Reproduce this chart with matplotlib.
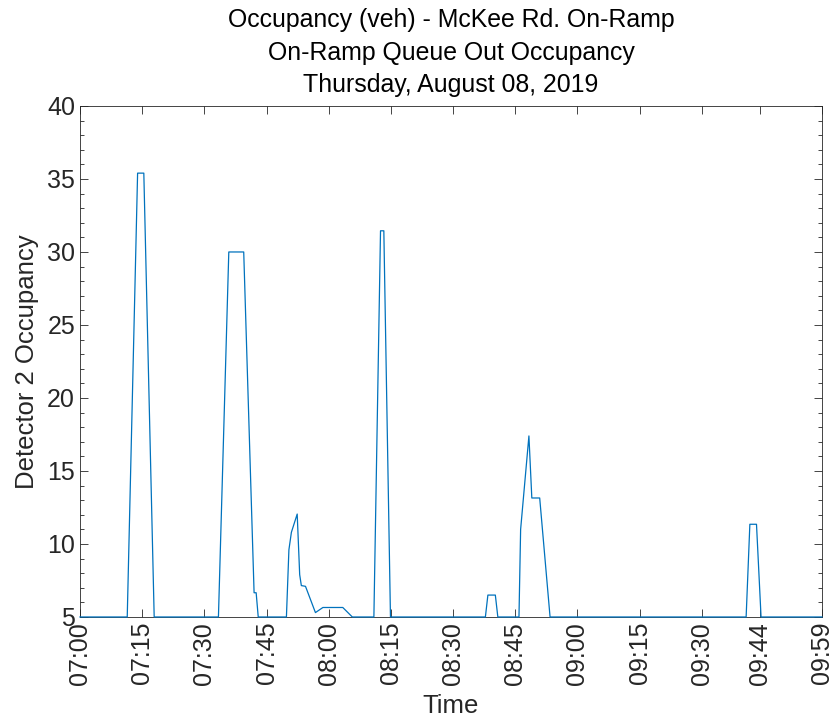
"""Ramp queue-out occupancy, McKee Rd. on-ramp, Thu 2019-08-08, 07:00-09:59."""
import matplotlib
matplotlib.use("Agg")
import matplotlib.pyplot as plt
from matplotlib.ticker import FixedLocator, MultipleLocator

# minutes after 07:00 and detector 2 occupancy at each vertex of the trace
minutes = [0, 11.4, 13.9, 15.4, 17.9,
           33.4, 35.9, 39.5, 42.0, 42.5, 43.0,
           49.8, 50.4, 51.0, 52.4, 53.0, 53.4, 54.4, 56.8, 58.6, 63.4, 65.7,
           70.9, 72.5, 73.3, 74.9,
           97.8, 98.4, 100.2, 100.8,
           105.9, 106.3, 108.3, 109.0, 110.9, 113.4,
           160.7, 161.6, 163.2, 164.3, 179]
occupancy = [5, 5, 35.4, 35.4, 5,
             5, 30.0, 30.0, 6.66, 6.66, 5,
             5, 9.6, 10.8, 12.05, 7.9, 7.15, 7.1, 5.3, 5.65, 5.65, 5,
             5, 31.45, 31.45, 5,
             5, 6.5, 6.5, 5,
             5, 11.0, 17.4, 13.15, 13.15, 5,
             5, 11.35, 11.35, 5, 5]

tick_minutes = [0, 15, 30, 45, 60, 75, 90, 105, 120, 135, 150, 164, 179]
tick_labels = ["07:00", "07:15", "07:30", "07:45", "08:00", "08:15", "08:30",
               "08:45", "09:00", "09:15", "09:30", "09:44", "09:59"]

title_lines = ["Occupancy (veh) - McKee Rd. On-Ramp",
               "On-Ramp Queue Out Occupancy",
               "Thursday, August 08, 2019"]


def main():
    plt.rcParams["font.family"] = ["Liberation Sans", "DejaVu Sans"]
    axis_grey = "#262626"

    fig = plt.figure(figsize=(8.34, 7.17), dpi=100)
    ax = fig.add_axes([0.0959, 0.1395, 0.8897, 0.7127])

    ax.plot(minutes, occupancy, color="#0072BD", linewidth=0.9,
            clip_on=False, zorder=3)

    ax.set_xlim(0, 179)
    ax.set_ylim(5, 40)
    ax.xaxis.set_major_locator(FixedLocator(tick_minutes))
    ax.set_xticklabels(tick_labels, rotation=90)
    ax.yaxis.set_major_locator(MultipleLocator(5))
    ax.yaxis.set_minor_locator(MultipleLocator(1))

    # MATLAB-ish box: inward ticks on all four sides
    ax.tick_params(which="both", direction="in", top=True, right=True,
                   colors=axis_grey, labelsize=18, width=0.6)
    ax.tick_params(which="major", length=6)
    ax.tick_params(which="minor", length=3)
    for s in ax.spines.values():
        s.set_color(axis_grey)
        s.set_linewidth(0.6)

    ax.set_xlabel("Time", fontsize=18.5, color=axis_grey, labelpad=7)
    ax.set_ylabel("Detector 2 Occupancy", fontsize=18.5, color=axis_grey,
                  labelpad=6)
    ax.set_title("\n".join(title_lines), fontsize=17.9, color="black",
                 linespacing=1.45, pad=10)

    fig.savefig("out.png", dpi=100)
    plt.close(fig)


if __name__ == "__main__":
    main()
